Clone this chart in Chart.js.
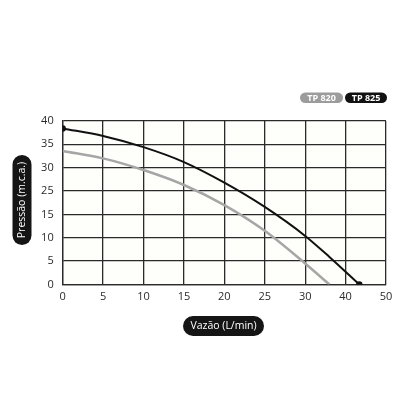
<!DOCTYPE html>
<html>
<head>
<meta charset="utf-8">
<script src="https://cdn.jsdelivr.net/npm/chart.js@4/dist/chart.umd.min.js"></script>
<style>
  html, body { margin: 0; padding: 0; background: #fff; }
  #wrap { width: 420px; height: 420px; }
</style>
</head>
<body>
<div id="wrap"><canvas id="chartPump"></canvas></div>
<script>
// tick labels as printed on the sheet (equally spaced gridlines)
const xLabels = ['0', '5', '10', '15', '20', '25', '30', '40', '50'];
const yLabels = ['0', '5', '10', '15', '25', '30', '35', '40'];

// TP 825 (black)
const flow825 = [0, 5, 10, 15, 20, 25, 30, 33, 36.7];
const head825 = [33.4, 31.8, 29.4, 26.2, 21.8, 16.6, 10.4, 5.9, 0];
// TP 820 (gray)
const flow820 = [0, 5, 10, 15, 20, 25, 30, 33];
const head820 = [28.6, 27.0, 24.5, 21.3, 17.0, 11.5, 4.5, 0];

const series = ['TP 820', 'TP 825'];

(function () {
  const font = "'Open Sans', 'Noto Sans', sans-serif";
  const toPts = (xs, ys) => xs.map((x, i) => ({ x: x, y: ys[i] }));

  function pill(ctx, x, y, w, h, fill) {
    ctx.beginPath();
    ctx.roundRect(x, y, w, h, Math.min(w, h) / 2);
    ctx.fillStyle = fill;
    ctx.fill();
  }

  const decor = {
    id: 'decor',
    beforeDraw(chart) {
      const { ctx, chartArea: a } = chart;
      ctx.save();
      ctx.fillStyle = '#fefefa';
      ctx.fillRect(a.left, a.top, a.right - a.left, a.bottom - a.top);
      ctx.restore();
    },
    afterDraw(chart) {
      const ctx = chart.ctx;
      ctx.save();
      ctx.textAlign = 'center';
      ctx.textBaseline = 'middle';
      // legend pills
      pill(ctx, 300, 92.5, 43, 10.5, '#9c9c9c');
      pill(ctx, 345, 92.5, 42, 10.5, '#111');
      ctx.fillStyle = '#fff';
      ctx.font = 'bold 9px ' + font;
      ctx.fillText(series[0], 321.5, 98);
      ctx.fillText(series[1], 366, 98);
      // x title
      pill(ctx, 183, 316, 81, 20, '#151515');
      ctx.fillStyle = '#fff';
      ctx.font = '10.5px ' + font;
      ctx.fillText('Vazão (L/min)', 223.5, 326.5);
      // y title
      pill(ctx, 12.5, 155, 19, 90, '#151515');
      ctx.translate(22, 200);
      ctx.rotate(-Math.PI / 2);
      ctx.fillStyle = '#fff';
      ctx.fillText('Pressão (m.c.a.)', 0, 0.5);
      ctx.restore();
    }
  };

  const grid = { color: '#2a2a2a', lineWidth: 1.3, drawTicks: false };
  const border = { color: '#2a2a2a', width: 1.3 };

  new Chart(document.getElementById('chartPump'), {
    type: 'line',
    data: {
      datasets: [
        {
          label: series[1],
          data: toPts(flow825, head825),
          borderColor: '#111',
          backgroundColor: '#111',
          borderWidth: 2,
          pointRadius: ctx => (ctx.dataIndex === 0 || ctx.dataIndex === flow825.length - 1) ? 2.2 : 0,
          cubicInterpolationMode: 'monotone',
        },
        {
          label: series[0],
          data: toPts(flow820, head820),
          borderColor: '#a6a6a6',
          borderWidth: 2.5,
          pointRadius: 0,
          cubicInterpolationMode: 'monotone',
        },
      ],
    },
    options: {
      responsive: true,
      maintainAspectRatio: false,
      animation: false,
      layout: { padding: { top: 121, right: 34, left: 0, bottom: 0 } },
      plugins: { legend: { display: false }, tooltip: { enabled: false } },
      scales: {
        x: {
          type: 'linear', min: 0, max: 40,
          grid: grid, border: border,
          ticks: {
            stepSize: 5, padding: 6, color: '#2a2a2a',
            font: { family: font, size: 11 },
            callback: (v, i) => xLabels[i],
          },
          afterFit: s => { s.height = 135.5; },
        },
        y: {
          type: 'linear', min: 0, max: 35,
          grid: grid, border: border,
          ticks: {
            stepSize: 5, padding: 9, color: '#2a2a2a',
            font: { family: font, size: 11 },
            callback: (v, i) => yLabels[i],
          },
          afterFit: s => { s.width = 62.7; },
        },
      },
    },
    plugins: [decor],
  });
})();
</script>
</body>
</html>
